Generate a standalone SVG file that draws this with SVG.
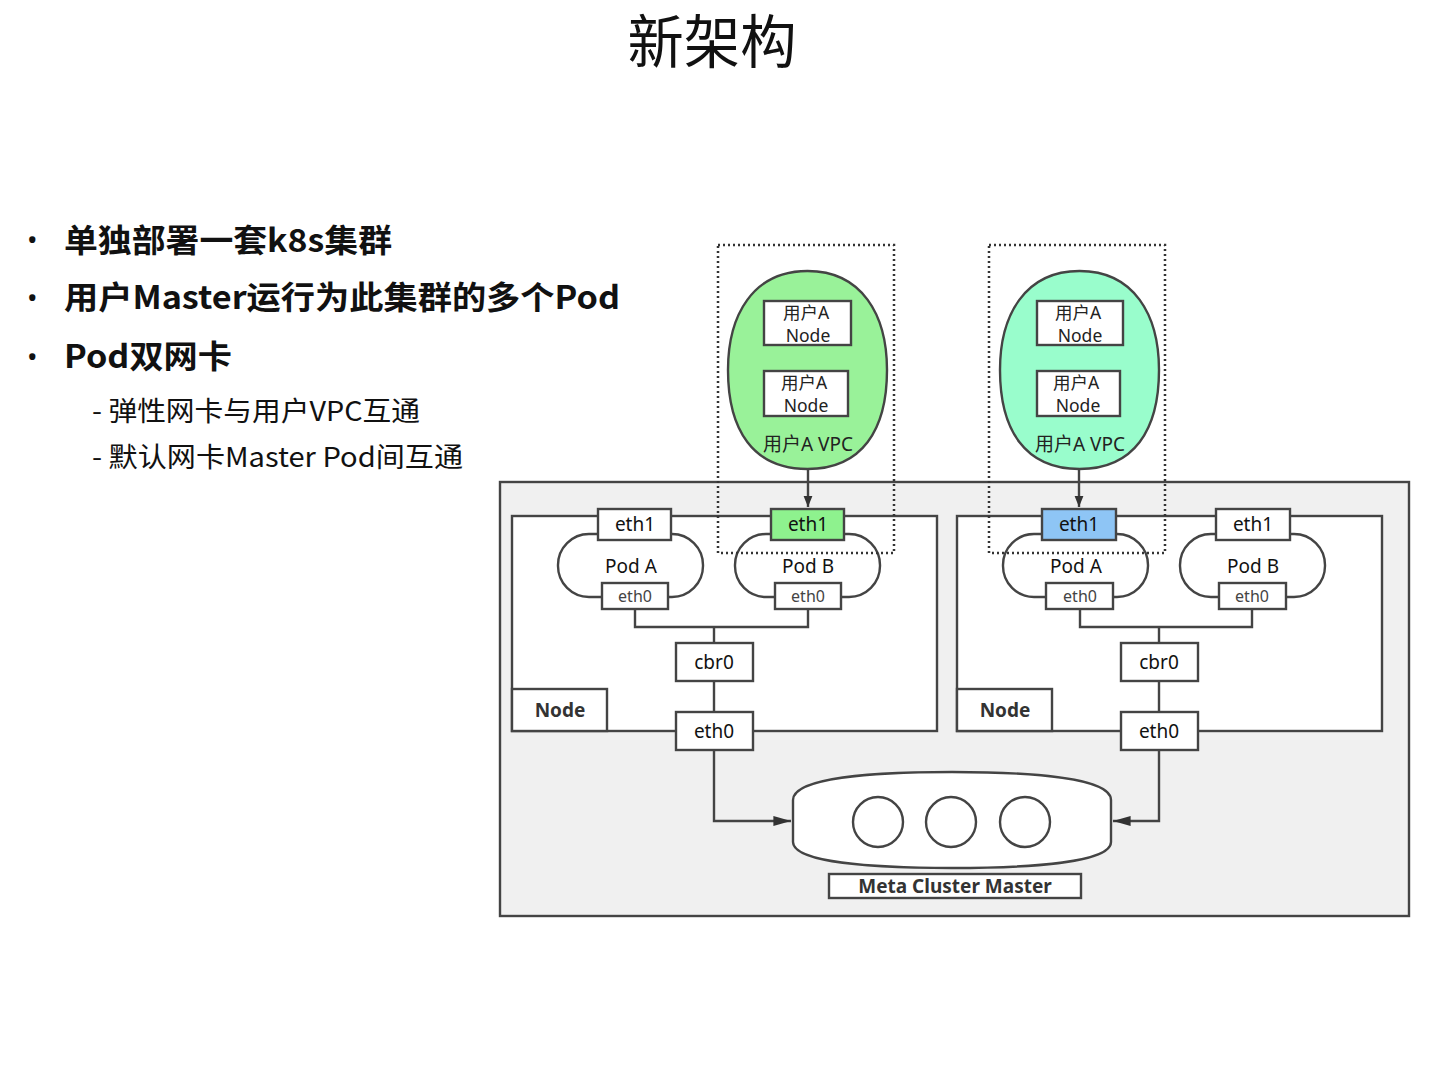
<svg xmlns="http://www.w3.org/2000/svg" width="1440" height="1080" viewBox="0 0 1440 1080">
<style>
text{font-family:"Noto Sans","Noto Sans CJK SC",sans-serif;fill:#111}
.box{fill:#fff;stroke:#444;stroke-width:2.4}
.ln{fill:none;stroke:#444;stroke-width:2.4}
.lbl{font-size:19px;text-anchor:middle;dominant-baseline:central}
.sm{font-size:16px;fill:#444;text-anchor:middle;dominant-baseline:central}
.bold{font-weight:bold}
.dot{fill:none;stroke:#333;stroke-width:2.5;stroke-dasharray:2 3}
.vpc{stroke:#444;stroke-width:2.4}
.cn{fill:#222;font-size:17.5px;text-anchor:middle;dominant-baseline:central}
.bul{font-size:32px;font-weight:bold;font-family:"Noto Sans CJK SC","Noto Sans",sans-serif}
.sub{font-size:27px;font-family:"Noto Sans CJK SC","Noto Sans",sans-serif}
</style>
<defs>
<marker id="ah" viewBox="0 0 10 10" refX="10" refY="5" markerWidth="11" markerHeight="11" markerUnits="userSpaceOnUse" orient="auto"><path d="M0,1 L10,5 L0,9 Z" fill="#333"/></marker>
<marker id="ah2" viewBox="0 0 16 10" refX="16" refY="5" markerWidth="18" markerHeight="11" markerUnits="userSpaceOnUse" orient="auto"><path d="M0,0.5 L16,5 L0,9.5 Z" fill="#333"/></marker>
</defs>
<rect width="1440" height="1080" fill="#fff"/>
<g id="title"><text x="712" y="63" font-size="58" text-anchor="middle" textLength="169" lengthAdjust="spacingAndGlyphs" font-family="Noto Sans CJK SC, sans-serif">新架构</text></g>
<g id="bullets">
<text x="27" y="250" font-size="28">•</text>
<text x="27" y="308" font-size="28">•</text>
<text x="27" y="367" font-size="28">•</text>
<text class="bul" x="64" y="252" textLength="328" lengthAdjust="spacingAndGlyphs">单独部署一套k8s集群</text>
<text class="bul" x="64" y="309" textLength="556" lengthAdjust="spacingAndGlyphs">用户Master运行为此集群的多个Pod</text>
<text class="bul" x="64" y="368" textLength="168" lengthAdjust="spacingAndGlyphs">Pod双网卡</text>
<text class="sub" x="92" y="421" textLength="328" lengthAdjust="spacingAndGlyphs">- 弹性网卡与用户VPC互通</text>
<text class="sub" x="92" y="467" textLength="371" lengthAdjust="spacingAndGlyphs">- 默认网卡Master Pod间互通</text>
</g>
<g id="cluster"><rect x="500" y="482" width="909" height="434" fill="#f0f0f0" stroke="#444" stroke-width="2.4"/></g>
<g id="nodeL">
<rect class="box" x="512" y="516" width="425" height="215"/>
<rect class="box" x="558" y="534" width="145" height="63" rx="31" ry="31"/>
<rect class="box" x="735" y="534" width="145" height="63" rx="31" ry="31"/>
<text class="lbl" x="631" y="566">Pod A</text>
<text class="lbl" x="808" y="566">Pod B</text>
<rect class="box" x="598" y="509" width="73" height="31"/>
<text class="lbl" x="635" y="524">eth1</text>
<rect class="box" x="771" y="509" width="73" height="31" style="fill:#8ef28e"/>
<text class="lbl" x="808" y="524">eth1</text>
<rect class="box" x="602" y="583" width="66" height="26"/>
<text class="sm" x="635" y="596">eth0</text>
<rect class="box" x="775" y="583" width="66" height="26"/>
<text class="sm" x="808" y="596">eth0</text>
<rect class="box" x="676" y="643" width="77" height="38"/>
<text class="lbl" x="714" y="662">cbr0</text>
<rect class="box" x="676" y="712" width="77" height="38"/>
<text class="lbl" x="714" y="731">eth0</text>
<rect class="box" x="512" y="689" width="95" height="42"/>
<text class="lbl bold" x="560" y="710" style="fill:#333">Node</text>
</g>
<g id="nodeR">
<rect class="box" x="957" y="516" width="425" height="215"/>
<rect class="box" x="1003" y="534" width="145" height="63" rx="31" ry="31"/>
<rect class="box" x="1180" y="534" width="145" height="63" rx="31" ry="31"/>
<text class="lbl" x="1076" y="566">Pod A</text>
<text class="lbl" x="1253" y="566">Pod B</text>
<rect class="box" x="1042" y="509" width="74" height="31" style="fill:#8ec5f5"/>
<text class="lbl" x="1079" y="524">eth1</text>
<rect class="box" x="1216" y="509" width="74" height="31"/>
<text class="lbl" x="1253" y="524">eth1</text>
<rect class="box" x="1046" y="583" width="67" height="26"/>
<text class="sm" x="1080" y="596">eth0</text>
<rect class="box" x="1219" y="583" width="67" height="26"/>
<text class="sm" x="1252" y="596">eth0</text>
<rect class="box" x="1121" y="643" width="77" height="38"/>
<text class="lbl" x="1159" y="662">cbr0</text>
<rect class="box" x="1121" y="712" width="77" height="38"/>
<text class="lbl" x="1159" y="731">eth0</text>
<rect class="box" x="957" y="689" width="95" height="42"/>
<text class="lbl bold" x="1005" y="710" style="fill:#333">Node</text>
</g>
<g id="connectors">
<path class="ln" d="M635,609 V627 H808 V609 M714,627 V643 M714,681 V712"/>
<path class="ln" d="M1080,609 V627 H1252 V609 M1159,627 V643 M1159,681 V712"/>
<path class="ln" d="M714,750 V821 H791" marker-end="url(#ah2)"/>
<path class="ln" d="M1159,750 V821 H1113" marker-end="url(#ah2)"/>
<path class="ln" d="M808,469 V507" marker-end="url(#ah)"/>
<path class="ln" d="M1079,469 V507" marker-end="url(#ah)"/>
</g>
<g id="vpcL">
<rect class="dot" x="718" y="245" width="176" height="308"/>
<path class="vpc" fill="#99f299" d="M807.5,271 C862,271 887,315 887,370 C887,430 862,469 807.5,469 C753,469 728,430 728,370 C728,315 753,271 807.5,271 Z"/>
<rect class="box" x="764" y="301" width="87" height="44"/>
<text class="cn" x="806" y="312">用户A</text>
<text class="cn" x="808" y="334.5">Node</text>
<rect class="box" x="764" y="371" width="84" height="45"/>
<text class="cn" x="804" y="382">用户A</text>
<text class="cn" x="806" y="404.5">Node</text>
<text class="cn" x="808" y="444" style="font-size:19px">用户A VPC</text>
</g>
<g id="vpcR">
<rect class="dot" x="989" y="245" width="176" height="308"/>
<path class="vpc" fill="#99fdcc" d="M1079.5,271 C1134,271 1159,315 1159,370 C1159,430 1134,469 1079.5,469 C1025,469 1000,430 1000,370 C1000,315 1025,271 1079.5,271 Z"/>
<rect class="box" x="1037" y="301" width="86" height="44"/>
<text class="cn" x="1078" y="312">用户A</text>
<text class="cn" x="1080" y="334.5">Node</text>
<rect class="box" x="1037" y="371" width="83" height="45"/>
<text class="cn" x="1076" y="382">用户A</text>
<text class="cn" x="1078" y="404.5">Node</text>
<text class="cn" x="1080" y="444" style="font-size:19px">用户A VPC</text>
</g>
<g id="master">
<path class="box" d="M793,800 C793,778 870,772 952,772 C1034,772 1111,778 1111,800 L1111,842 C1111,862 1034,868 952,868 C870,868 793,862 793,842 Z"/>
<circle class="box" cx="878" cy="822" r="25"/>
<circle class="box" cx="951" cy="822" r="25"/>
<circle class="box" cx="1025" cy="822" r="25"/>
<rect class="box" x="829" y="874" width="252" height="24"/>
<text class="lbl bold" x="955" y="886" style="fill:#333">Meta Cluster Master</text>
</g>
</svg>
